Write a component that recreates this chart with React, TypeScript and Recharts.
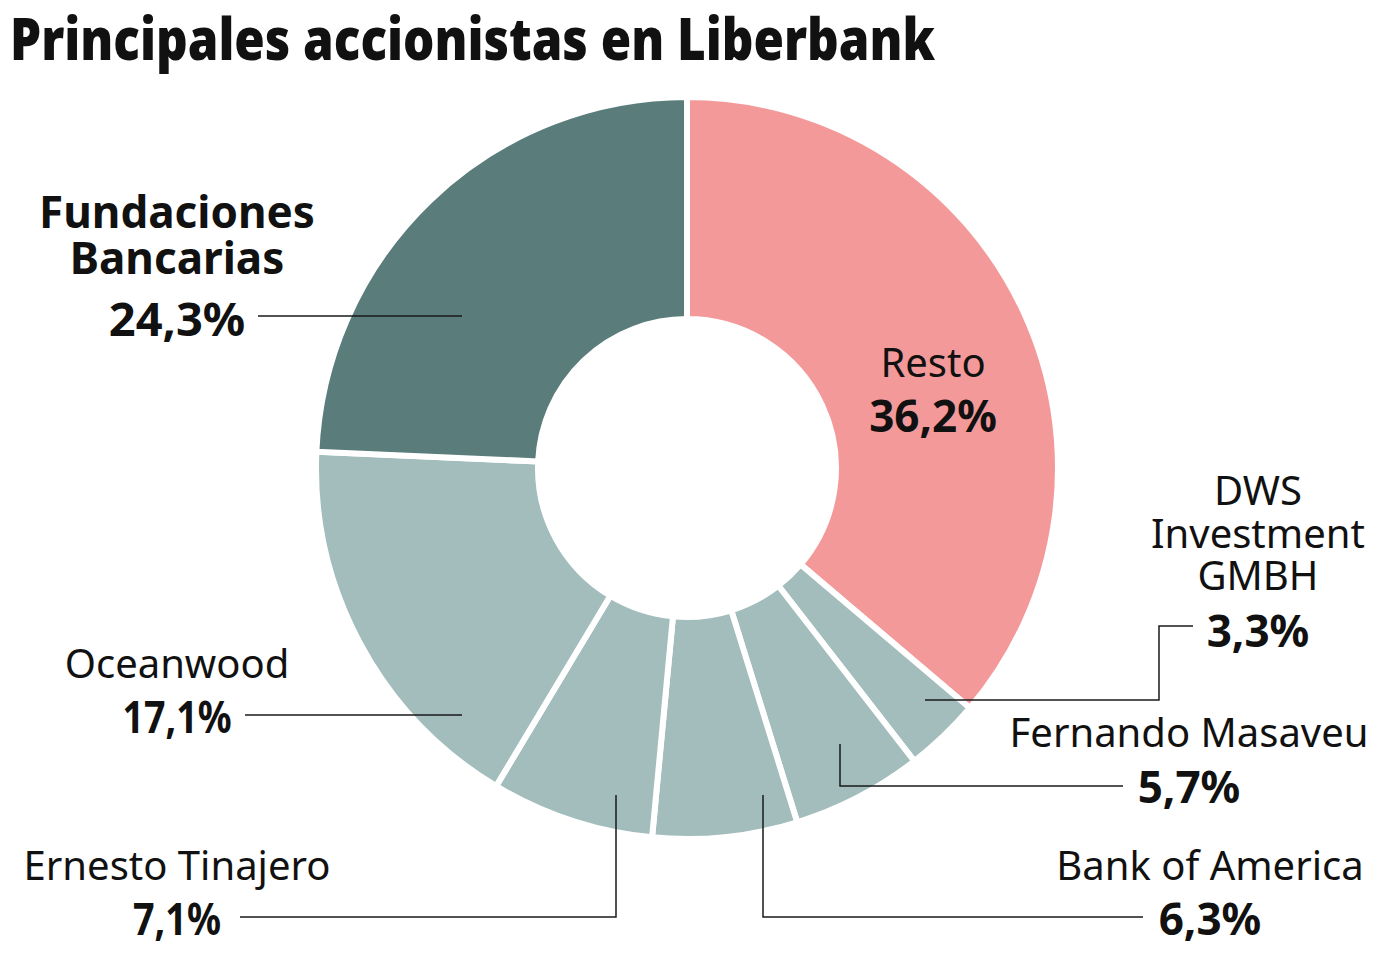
import { PieChart, Pie, Cell } from 'recharts';

// accionistas, en el orden de las agujas del reloj desde las 12
const holders = [
  'Resto',
  'DWS\nInvestment\nGMBH',
  'Fernando Masaveu',
  'Bank of America',
  'Ernesto Tinajero',
  'Oceanwood',
  'Fundaciones\nBancarias',
];
const stakes = [36.2, 3.3, 5.7, 6.3, 7.1, 17.1, 24.3];
const sliceColors = ['#F4999A', '#A3BDBC', '#A3BDBC', '#A3BDBC', '#A3BDBC', '#A3BDBC', '#5A7D7B'];

const chartData = holders.map((name, i) => ({ name, value: stakes[i] }));

// posición de cada etiqueta y su línea guía (coordenadas del lienzo)
type Layout = {
  x: number;
  nameY: number;
  gap: number;
  nameSize: number;
  pctY: number;
  pctSize: number;
  pctW?: number;
  bold: boolean;
  leader: number[][];
};
const labelLayout: Layout[] = [
  { x: 933, nameY: 377, gap: 0, nameSize: 40, pctY: 432, pctSize: 44, bold: false, leader: [] },
  { x: 1258, nameY: 505, gap: 42.5, nameSize: 40, pctY: 647, pctSize: 44, bold: false, leader: [[925, 700], [1159, 700], [1159, 626], [1193, 626]] },
  { x: 1189, nameY: 747, gap: 0, nameSize: 40, pctY: 803, pctSize: 44, bold: false, leader: [[840, 744], [840, 786], [1123, 786]] },
  { x: 1210, nameY: 880, gap: 0, nameSize: 40, pctY: 935, pctSize: 44, bold: false, leader: [[763, 795], [763, 917], [1143, 917]] },
  { x: 177, nameY: 880, gap: 0, nameSize: 40, pctY: 935, pctSize: 44, pctW: 88, bold: false, leader: [[616, 795], [616, 917], [240, 917]] },
  { x: 177, nameY: 678, gap: 0, nameSize: 40, pctY: 733, pctSize: 44, pctW: 109, bold: false, leader: [[462, 715], [245, 715]] },
  { x: 177, nameY: 228, gap: 46, nameSize: 44, pctY: 336, pctSize: 47, bold: true, leader: [[462, 316], [258, 316]] },
];

const FONT = '"Noto Sans", "Open Sans", sans-serif';

const fmt = (v: number) => v.toFixed(1).replace('.', ',') + '%';

function renderLabel(props: any) {
  const i = props.index;
  const l = labelLayout[i];
  const lines = String(chartData[i].name).split('\n');
  return (
    <g key={`lbl-${i}`}>
      {l.leader.length > 0 && (
        <polyline
          points={l.leader.map((p) => p.join(',')).join(' ')}
          fill="none"
          stroke="#1a1a1a"
          strokeWidth={1.5}
        />
      )}
      {lines.map((t, k) => (
        <text
          key={k}
          x={l.x}
          y={l.nameY + k * l.gap}
          textAnchor="middle"
          fontFamily={FONT}
          fontSize={l.nameSize}
          fontWeight={l.bold ? 700 : 400}
          fill="#111"
        >
          {t}
        </text>
      ))}
      <text
        x={l.x}
        y={l.pctY}
        textAnchor="middle"
        fontFamily={FONT}
        fontSize={l.pctSize}
        fontWeight={700}
        fill="#111"
        textLength={l.pctW}
        lengthAdjust={l.pctW ? 'spacingAndGlyphs' : undefined}
      >
        {fmt(stakes[i])}
      </text>
    </g>
  );
}

export default function App() {
  return (
    <div style={{ position: 'absolute', left: 0, top: 0, width: 1374, height: 953, background: '#fff' }}>
      <svg width={1374} height={100} style={{ position: 'absolute', left: 0, top: 0 }}>
        <text
          x={10}
          y={60}
          fontFamily={FONT}
          fontSize={58}
          fontWeight={900}
          textLength={925}
          lengthAdjust="spacingAndGlyphs"
          fill="#111"
        >
          Principales accionistas en Liberbank
        </text>
      </svg>
      <div style={{ position: 'absolute', left: 0, top: 0 }}>
        <PieChart width={1374} height={953} margin={{ top: 0, right: 0, bottom: 0, left: 0 }}>
          <Pie
            data={chartData}
            dataKey="value"
            nameKey="name"
            cx={687}
            cy={468}
            innerRadius={149}
            outerRadius={371}
            startAngle={90}
            endAngle={-270}
            stroke="#fff"
            strokeWidth={6}
            label={renderLabel}
            labelLine={false}
            isAnimationActive={false}
          >
            {chartData.map((d, i) => (
              <Cell key={d.name} fill={sliceColors[i]} stroke="#fff" strokeWidth={6} />
            ))}
          </Pie>
        </PieChart>
      </div>
    </div>
  );
}
